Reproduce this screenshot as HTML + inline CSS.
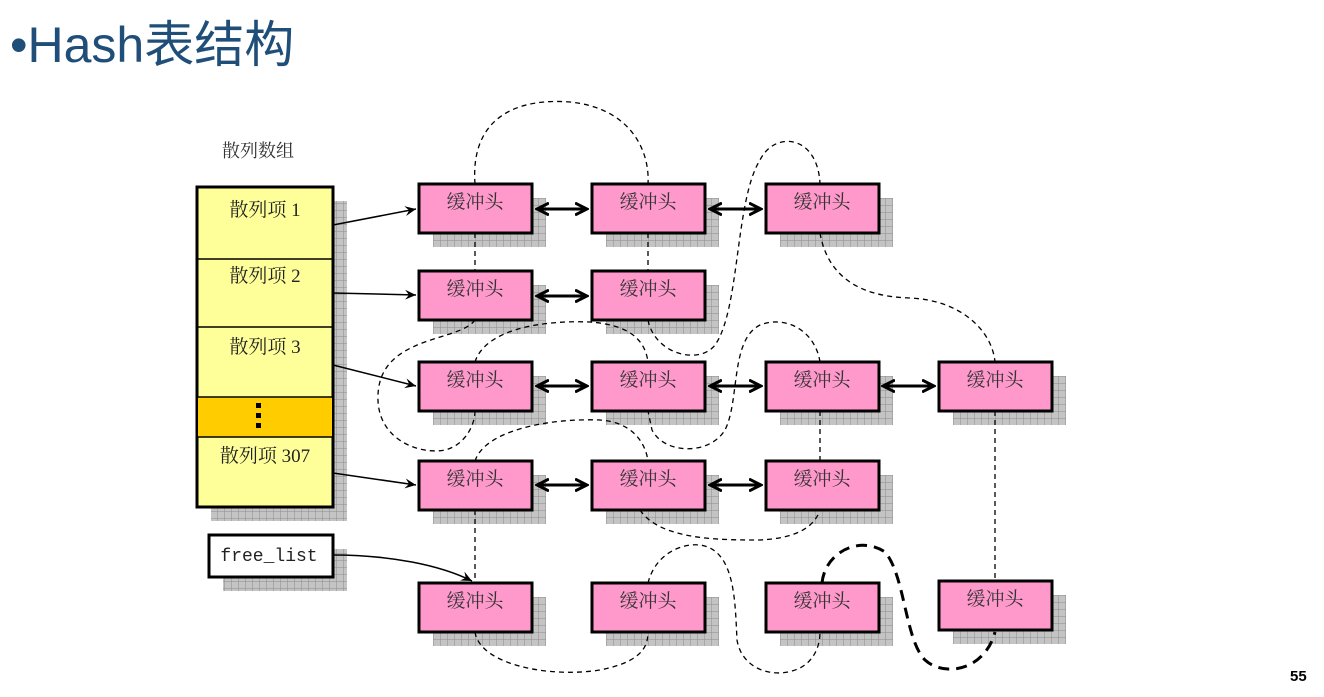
<!DOCTYPE html>
<html><head><meta charset="utf-8"><style>
html,body{margin:0;padding:0;background:#fff;width:1324px;height:697px;overflow:hidden}
</style></head><body>
<svg width="1324" height="697" viewBox="0 0 1324 697" xmlns="http://www.w3.org/2000/svg">
<defs>
<pattern id="g" width="7" height="7" patternUnits="userSpaceOnUse">
<rect width="7" height="7" fill="#c4c4c4"/>
<path d="M0 0H7M0 0V7" stroke="#8c8c8c" stroke-width="1"/>
</pattern>
<marker id="a" markerWidth="12" markerHeight="10" refX="11" refY="5" orient="auto" markerUnits="userSpaceOnUse">
<path d="M0,0 L11,5 L0,10 L4,5z" fill="#000"/></marker>
<marker id="ae" markerWidth="14" markerHeight="14" refX="12" refY="7" orient="auto" markerUnits="userSpaceOnUse">
<path d="M0,1 L12,7 L0,13" fill="none" stroke="#000" stroke-width="3"/></marker>
<marker id="as" markerWidth="14" markerHeight="14" refX="2" refY="7" orient="auto" markerUnits="userSpaceOnUse">
<path d="M14,1 L2,7 L14,13" fill="none" stroke="#000" stroke-width="3"/></marker>
</defs>
<text x="10" y="62" font-family="Liberation Sans, Noto Sans CJK SC, sans-serif" font-size="50" fill="#1f4e79">•Hash表结构</text>
<text x="1290" y="681" font-family="Liberation Sans, sans-serif" font-size="15" font-weight="bold" fill="#000">55</text>
<text x="222" y="157" font-family="Liberation Serif, Noto Serif CJK SC, serif" font-size="18" fill="#333">散列数组</text>
<!-- hash array -->
<rect x="211" y="201" width="136" height="320" fill="url(#g)"/>
<rect x="197" y="187" width="136" height="320" fill="#ffff99" stroke="#000" stroke-width="3"/>
<rect x="198" y="397" width="134" height="40" fill="#ffcc00"/>
<g stroke="#000" stroke-width="1.5"><line x1="197" y1="259" x2="333" y2="259"/><line x1="197" y1="327" x2="333" y2="327"/><line x1="197" y1="397" x2="333" y2="397"/><line x1="197" y1="437" x2="333" y2="437"/></g>
<g fill="#000"><rect x="256" y="403" width="5" height="5"/><rect x="256" y="413" width="5" height="5"/><rect x="256" y="423" width="5" height="5"/></g>
<g font-family="Liberation Serif, Noto Serif CJK SC, serif" font-size="19" fill="#222" text-anchor="middle">
<text x="265" y="216">散列项 1</text><text x="265" y="282">散列项 2</text><text x="265" y="353">散列项 3</text><text x="265" y="462">散列项 307</text></g>
<rect x="223" y="549" width="124" height="42" fill="url(#g)"/>
<rect x="209" y="535" width="124" height="42" fill="#fff" stroke="#000" stroke-width="3"/>
<text x="269" y="561" font-family="Liberation Mono, monospace" font-size="18" text-anchor="middle" fill="#222">free_list</text>
<!-- boxes -->
<g id="boxes" font-family="Liberation Serif, Noto Serif CJK SC, serif" font-size="19" fill="#333" text-anchor="middle">
<g transform="translate(419,184)"><rect x="14" y="14" width="113" height="49" fill="url(#g)"/><rect width="113" height="49" fill="#ff99cc" stroke="#000" stroke-width="3"/><text x="56" y="24">缓冲头</text></g>
<g transform="translate(592,184)"><rect x="14" y="14" width="113" height="49" fill="url(#g)"/><rect width="113" height="49" fill="#ff99cc" stroke="#000" stroke-width="3"/><text x="56" y="24">缓冲头</text></g>
<g transform="translate(766,184)"><rect x="14" y="14" width="113" height="49" fill="url(#g)"/><rect width="113" height="49" fill="#ff99cc" stroke="#000" stroke-width="3"/><text x="56" y="24">缓冲头</text></g>
<g transform="translate(419,271)"><rect x="14" y="14" width="113" height="49" fill="url(#g)"/><rect width="113" height="49" fill="#ff99cc" stroke="#000" stroke-width="3"/><text x="56" y="24">缓冲头</text></g>
<g transform="translate(592,271)"><rect x="14" y="14" width="113" height="49" fill="url(#g)"/><rect width="113" height="49" fill="#ff99cc" stroke="#000" stroke-width="3"/><text x="56" y="24">缓冲头</text></g>
<g transform="translate(419,362)"><rect x="14" y="14" width="113" height="49" fill="url(#g)"/><rect width="113" height="49" fill="#ff99cc" stroke="#000" stroke-width="3"/><text x="56" y="24">缓冲头</text></g>
<g transform="translate(592,362)"><rect x="14" y="14" width="113" height="49" fill="url(#g)"/><rect width="113" height="49" fill="#ff99cc" stroke="#000" stroke-width="3"/><text x="56" y="24">缓冲头</text></g>
<g transform="translate(766,362)"><rect x="14" y="14" width="113" height="49" fill="url(#g)"/><rect width="113" height="49" fill="#ff99cc" stroke="#000" stroke-width="3"/><text x="56" y="24">缓冲头</text></g>
<g transform="translate(939,362)"><rect x="14" y="14" width="113" height="49" fill="url(#g)"/><rect width="113" height="49" fill="#ff99cc" stroke="#000" stroke-width="3"/><text x="56" y="24">缓冲头</text></g>
<g transform="translate(419,461)"><rect x="14" y="14" width="113" height="49" fill="url(#g)"/><rect width="113" height="49" fill="#ff99cc" stroke="#000" stroke-width="3"/><text x="56" y="24">缓冲头</text></g>
<g transform="translate(592,461)"><rect x="14" y="14" width="113" height="49" fill="url(#g)"/><rect width="113" height="49" fill="#ff99cc" stroke="#000" stroke-width="3"/><text x="56" y="24">缓冲头</text></g>
<g transform="translate(766,461)"><rect x="14" y="14" width="113" height="49" fill="url(#g)"/><rect width="113" height="49" fill="#ff99cc" stroke="#000" stroke-width="3"/><text x="56" y="24">缓冲头</text></g>
<g transform="translate(419,583)"><rect x="14" y="14" width="113" height="49" fill="url(#g)"/><rect width="113" height="49" fill="#ff99cc" stroke="#000" stroke-width="3"/><text x="56" y="24">缓冲头</text></g>
<g transform="translate(592,583)"><rect x="14" y="14" width="113" height="49" fill="url(#g)"/><rect width="113" height="49" fill="#ff99cc" stroke="#000" stroke-width="3"/><text x="56" y="24">缓冲头</text></g>
<g transform="translate(766,583)"><rect x="14" y="14" width="113" height="49" fill="url(#g)"/><rect width="113" height="49" fill="#ff99cc" stroke="#000" stroke-width="3"/><text x="56" y="24">缓冲头</text></g>
<g transform="translate(939,581)"><rect x="14" y="14" width="113" height="49" fill="url(#g)"/><rect width="113" height="49" fill="#ff99cc" stroke="#000" stroke-width="3"/><text x="56" y="24">缓冲头</text></g>
</g>
<!-- solid arrows -->
<g stroke="#000" stroke-width="1.5" fill="none">
<path d="M333,225 L416,209" marker-end="url(#a)"/>
<path d="M333,293 L416,295" marker-end="url(#a)"/>
<path d="M333,365 L416,386" marker-end="url(#a)"/>
<path d="M333,473 L416,485" marker-end="url(#a)"/>
<path d="M333,555 C390,555 440,565 472,581" marker-end="url(#a)"/>
</g>
<g stroke="#000" stroke-width="3" fill="none">
<path d="M537,209 L587,209" marker-start="url(#as)" marker-end="url(#ae)"/>
<path d="M710,209 L761,209" marker-start="url(#as)" marker-end="url(#ae)"/>
<path d="M537,296 L587,296" marker-start="url(#as)" marker-end="url(#ae)"/>
<path d="M537,386 L587,386" marker-start="url(#as)" marker-end="url(#ae)"/>
<path d="M710,386 L761,386" marker-start="url(#as)" marker-end="url(#ae)"/>
<path d="M883,386 L934,386" marker-start="url(#as)" marker-end="url(#ae)"/>
<path d="M537,485 L587,485" marker-start="url(#as)" marker-end="url(#ae)"/>
<path d="M710,485 L761,485" marker-start="url(#as)" marker-end="url(#ae)"/>
</g>
<!-- dashed -->
<g stroke="#000" stroke-width="1.3" stroke-dasharray="5,4" fill="none">
<path d="M475,184 C470,115 520,98 570,102 C630,108 650,150 648,184"/>
<path d="M475,233 L475,271"/>
<path d="M648,233 L648,271"/>
<path d="M648,320 C655,355 700,365 715,345 C740,310 735,200 760,160 C775,130 818,135 820,184"/>
<path d="M820,233 C830,290 880,297 910,298 C960,300 992,330 995,362"/>
<path d="M995,411 L995,581"/>
<path d="M475,320 C460,342 380,335 378,395 C376,440 420,455 445,450 C465,445 475,425 475,411"/>
<path d="M475,362 C485,330 540,320 590,322 C630,325 645,340 648,362"/>
<path d="M475,461 C485,430 550,418 600,420 C630,422 645,440 648,461"/>
<path d="M820,362 C815,330 785,315 760,325 C730,340 740,400 725,430 C710,455 665,455 652,430 L648,411"/>
<path d="M820,411 L820,461"/>
<path d="M475,510 L475,583"/>
<path d="M640,510 C660,540 720,540 760,540 C800,538 815,525 820,510"/>
<path d="M475,632 C480,665 550,678 600,670 C640,662 648,648 648,632"/>
<path d="M648,583 C655,555 680,543 700,545 C735,550 735,600 737,640 C742,670 775,680 800,668 C815,660 820,645 820,632"/>
</g>
<path d="M822,583 C825,552 860,535 885,552 C905,575 905,640 925,660 C945,678 985,670 995,632" stroke="#000" stroke-width="3" stroke-dasharray="11,7" fill="none"/>
</svg>
</body></html>
